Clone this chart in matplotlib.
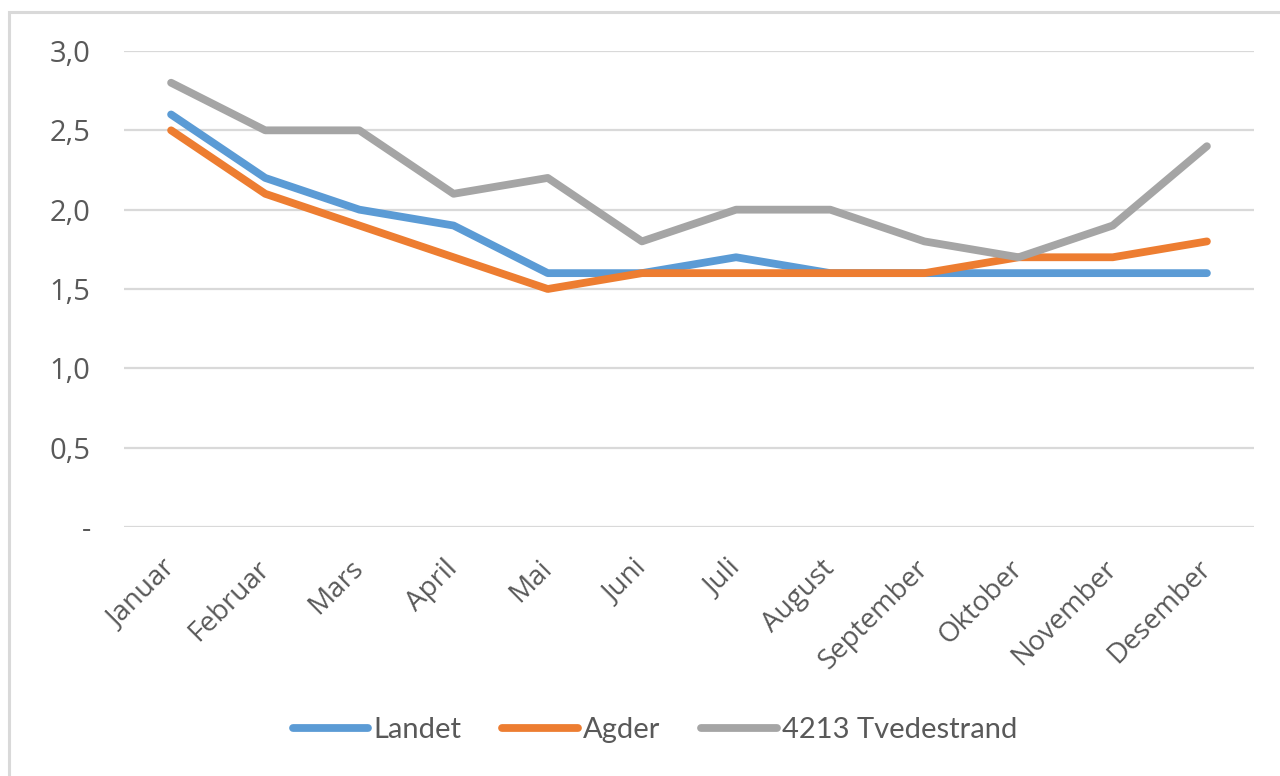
import matplotlib
matplotlib.use('Agg')
import matplotlib.pyplot as plt
from matplotlib.patches import Rectangle

# Data
months = ['Januar', 'Februar', 'Mars', 'April', 'Mai', 'Juni', 'Juli',
          'August', 'September', 'Oktober', 'November', 'Desember']
landet = [2.6, 2.2, 2.0, 1.9, 1.6, 1.6, 1.7, 1.6, 1.6, 1.6, 1.6, 1.6]
agder = [2.5, 2.1, 1.9, 1.7, 1.5, 1.6, 1.6, 1.6, 1.6, 1.7, 1.7, 1.8]
tvedestrand = [2.8, 2.5, 2.5, 2.1, 2.2, 1.8, 2.0, 2.0, 1.8, 1.7, 1.9, 2.4]
y_ticks = [0, 0.5, 1.0, 1.5, 2.0, 2.5, 3.0]
y_labels = ['-', '0,5', '1,0', '1,5', '2,0', '2,5', '3,0']

W, H = 1280, 776
fig = plt.figure(figsize=(W / 100, H / 100), dpi=100)

# Outer chart border (only left and top edges visible)
fig.patches.append(Rectangle((9 / W, -0.1), 1.2, (H - 12) / H + 0.1,
                             transform=fig.transFigure, fill=False,
                             edgecolor='#d9d9d9', linewidth=2.2))

left, right = 124, 1254
top, bottom = 51, 527
ax = fig.add_axes([left / W, 1 - bottom / H, (right - left) / W, (bottom - top) / H])

x = list(range(len(months)))
ax.plot(x, landet, color='#5b9bd5', linewidth=5.6, solid_capstyle='round',
        solid_joinstyle='round', label='Landet', zorder=3)
ax.plot(x, agder, color='#ed7d31', linewidth=5.6, solid_capstyle='round',
        solid_joinstyle='round', label='Agder', zorder=3)
ax.plot(x, tvedestrand, color='#a5a5a5', linewidth=5.6, solid_capstyle='round',
        solid_joinstyle='round', label='4213 Tvedestrand', zorder=3)

ax.set_xlim(-0.5, len(months) - 0.5)
ax.set_ylim(0, 3.0)
ax.set_yticks(y_ticks)
ax.set_yticklabels(y_labels, fontfamily='Open Sans', fontsize=21, color='#595959')
ax.set_xticks(x)
ax.set_xticklabels(months, rotation=45, ha='right', va='center',
                   rotation_mode='anchor',
                   fontfamily='Open Sans', fontsize=20, color='#595959')
ax.tick_params(axis='both', length=0)
ax.tick_params(axis='y', pad=24)
ax.tick_params(axis='x', pad=27)
ax.grid(axis='y', color='#d9d9d9', linewidth=1.6)
ax.set_axisbelow(True)
for s in ax.spines.values():
    s.set_visible(False)

leg = fig.legend(loc='center', bbox_to_anchor=(655 / W, 1 - 730 / H), ncol=3,
                 frameon=False, handlelength=2.6, handletextpad=0.17,
                 columnspacing=1.4,
                 prop={'family': 'Lato', 'size': 21})
for t in leg.get_texts():
    t.set_color('#595959')

fig.savefig('out.png', dpi=100, facecolor='white')
